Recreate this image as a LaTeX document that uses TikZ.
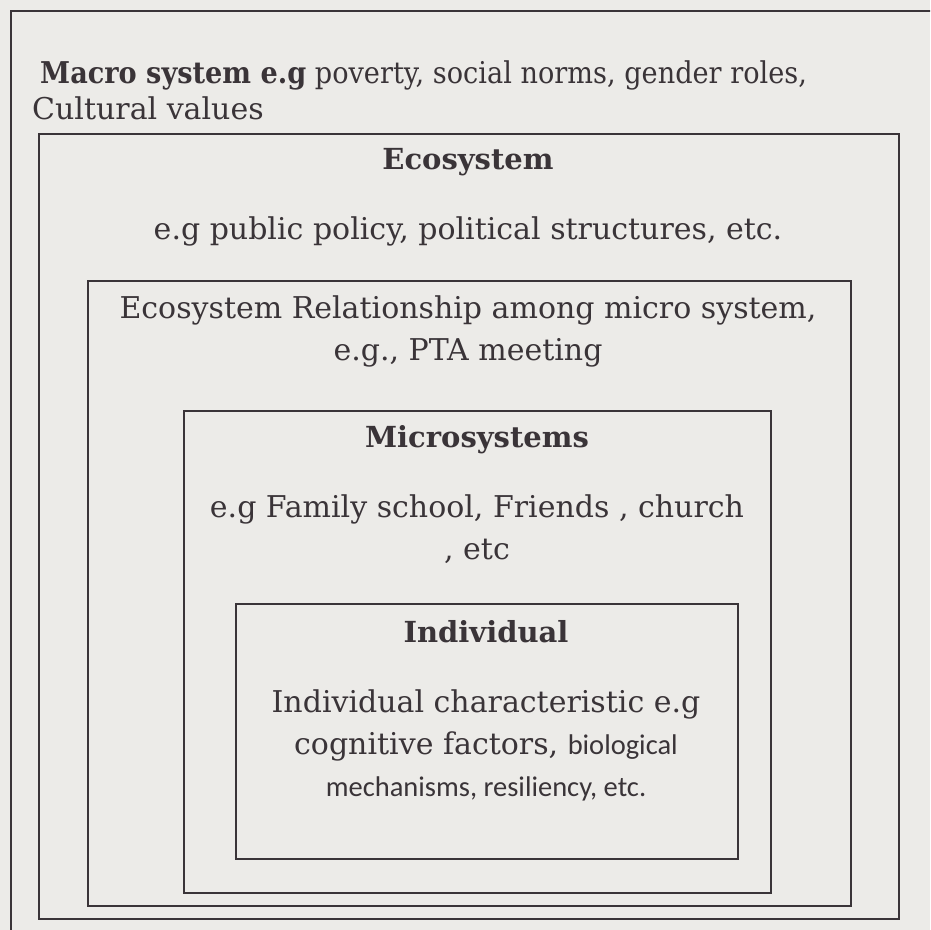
\documentclass[tikz,border=0pt]{standalone}
\usepackage{fontspec}
\setmainfont{DejaVu Serif}
\newfontfamily\calibri{Carlito}
\usetikzlibrary{positioning}
\definecolor{paper}{HTML}{ECEBE8}
\definecolor{ink}{HTML}{3A3438}

\begin{document}
\begin{tikzpicture}[x=1pt, y=-1pt,
	layer/.style={draw=ink, line width=2pt, inner sep=0pt, anchor=north west},
	txt/.style={text=ink, font=\fontsize{30}{42}\selectfont, align=center, inner sep=0pt},
	head/.style={txt, font=\fontsize{29}{42}\selectfont\bfseries}]
	\fill[paper] (0,0) rectangle (930,930);
	\clip (0,0) rectangle (930,930);
	% nested layers, outermost first
	\node[layer, minimum width=940pt, minimum height=940pt] (macro) at (10,10) {};
	\node[layer, minimum width=860pt, minimum height=785pt] (eco) at (38,133) {};
	\node[layer, minimum width=763pt, minimum height=625pt] (rel) at (87,280) {};
	\node[layer, minimum width=587pt, minimum height=482pt] (micro) at (183,410) {};
	\node[layer, minimum width=502pt, minimum height=255pt] (indiv) at (235,603) {};
	% labels
	\node[txt, anchor=west] (macrotxt) at (40,75) {\scalebox{0.905}[1]{\textbf{Macro system e.g} poverty, social norms, gender roles,}};
	\node[txt, anchor=west] (macrotxt2) at (32,108) {Cultural values};
	\node[head] (ecohead) at (468,162) {Ecosystem};
	\node[txt] (ecotxt) at (468,231) {e.g public policy, political structures, etc.};
	\node[txt] (reltxt) at (468,331) {Ecosystem Relationship among micro system,\\e.g., PTA meeting};
	\node[head] (microhead) at (477,440) {Microsystems};
	\node[txt] (microtxt) at (477,529) {e.g Family school, Friends , church\\, etc};
	\node[head] (indivhead) at (486,632) {Individual};
	\node[txt] (indivtxt) at (486,745) {Individual characteristic e.g\\cognitive factors, {\calibri\fontsize{28.5}{42}\selectfont biological}\\{\calibri\fontsize{28.5}{42}\selectfont mechanisms, resiliency, etc.}};
\end{tikzpicture}
\end{document}
